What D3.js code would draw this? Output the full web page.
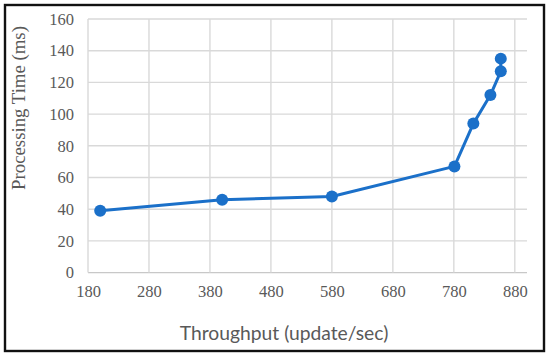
<!DOCTYPE html>
<html>
<head>
<meta charset="utf-8">
<script src="https://cdn.jsdelivr.net/npm/d3@7"></script>
<style>
  body { margin: 0; background: #fff; }
  svg { display: block; }
</style>
</head>
<body>
<script>
(function() {
  // chart values
  const throughput = [200, 400, 580, 781, 812, 840, 857, 857];
  const procTime   = [39, 46, 48, 67, 94, 112, 127, 135];
  const xTicks = [180, 280, 380, 480, 580, 680, 780, 880];
  const yTicks = [0, 20, 40, 60, 80, 100, 120, 140, 160];

  const W = 550, H = 357;
  const plot = { left: 88, right: 527, top: 19, bottom: 272.6 };

  const svg = d3.select("body").append("svg")
    .attr("width", W)
    .attr("height", H);

  // outer frame
  svg.append("rect")
    .attr("x", 5).attr("y", 5)
    .attr("width", 539).attr("height", 346)
    .attr("fill", "#fff")
    .attr("stroke", "#111")
    .attr("stroke-width", 2.4);

  const x = d3.scaleLinear().domain([180, 900]).range([plot.left, plot.right]);
  const y = d3.scaleLinear().domain([0, 160]).range([plot.bottom, plot.top]);

  // grid lines
  svg.append("g")
    .selectAll("line")
    .data(yTicks)
    .join("line")
    .attr("x1", plot.left).attr("x2", plot.right)
    .attr("y1", d => y(d)).attr("y2", d => y(d))
    .attr("stroke", d => d === 0 ? "#c8c8c8" : "#d9d9d9")
    .attr("stroke-width", 1.4);

  svg.append("g")
    .selectAll("line")
    .data(xTicks)
    .join("line")
    .attr("x1", d => x(d)).attr("x2", d => x(d))
    .attr("y1", plot.top).attr("y2", plot.bottom)
    .attr("stroke", "#d9d9d9")
    .attr("stroke-width", 1.4);

  // axes (labels only, lines drawn as grid)
  const xAxis = d3.axisBottom(x).tickValues(xTicks).tickSize(0).tickPadding(13);
  const yAxis = d3.axisLeft(y).tickValues(yTicks).tickSize(0).tickPadding(14);

  const gx = svg.append("g")
    .attr("transform", `translate(0,${plot.bottom})`)
    .call(xAxis);
  const gy = svg.append("g")
    .attr("transform", `translate(${plot.left},0)`)
    .call(yAxis);

  [gx, gy].forEach(g => {
    g.select(".domain").remove();
    g.selectAll("text")
      .attr("fill", "#595959")
      .style("font-family", "'Liberation Serif', 'Times New Roman', serif")
      .style("font-size", "16.5px");
  });

  // axis titles
  svg.append("text")
    .attr("x", 284)
    .attr("y", 340)
    .attr("text-anchor", "middle")
    .attr("fill", "#595959")
    .style("font-family", "Lato, 'Open Sans', sans-serif")
    .style("font-size", "19.3px")
    .text("Throughput (update/sec)");

  svg.append("text")
    .attr("transform", "translate(25,108) rotate(-90)")
    .attr("text-anchor", "middle")
    .attr("fill", "#595959")
    .style("font-family", "'Liberation Serif', 'Times New Roman', serif")
    .style("font-size", "18.8px")
    .text("Processing Time (ms)");

  // series
  const pts = throughput.map((t, i) => ({ t: t, p: procTime[i] }));
  const line = d3.line()
    .x(d => x(d.t))
    .y(d => y(d.p));

  svg.append("path")
    .datum(pts)
    .attr("fill", "none")
    .attr("stroke", "#1b70c9")
    .attr("stroke-width", 3)
    .attr("stroke-linejoin", "round")
    .attr("d", line);

  svg.append("g")
    .selectAll("circle")
    .data(pts)
    .join("circle")
    .attr("cx", d => x(d.t))
    .attr("cy", d => y(d.p))
    .attr("r", 6)
    .attr("fill", "#1b70c9");
})();
</script>
</body>
</html>
